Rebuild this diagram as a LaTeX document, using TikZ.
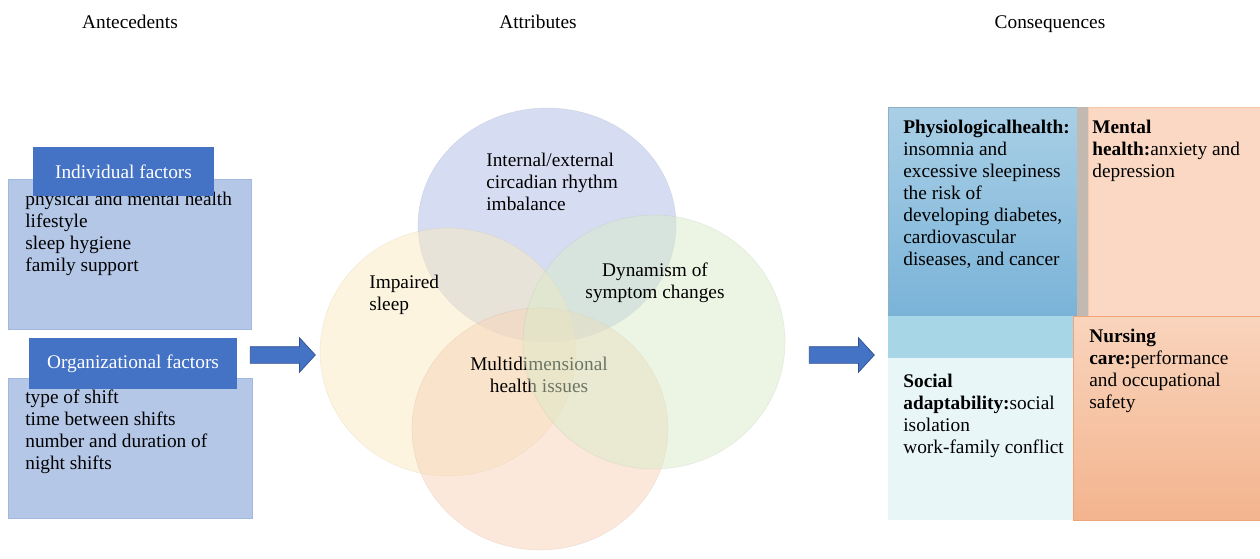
\documentclass[tikz,border=0pt]{standalone}
\usepackage{fontspec}
\setmainfont{Liberation Serif}
\usetikzlibrary{shapes.arrows}
\definecolor{labelblue}{HTML}{4472C4}
\definecolor{arrowedge}{HTML}{2F528F}
\definecolor{boxfill}{HTML}{B4C7E7}
\definecolor{boxedge}{HTML}{A3B8DE}
\definecolor{topcirc}{HTML}{AEBCE6}
\definecolor{leftcirc}{HTML}{FBEAC0}
\definecolor{rightcirc}{HTML}{D9EBC8}
\definecolor{bottomcirc}{HTML}{F8D2B8}
\definecolor{physTop}{HTML}{A9CFE6}
\definecolor{physBot}{HTML}{7AB3D8}
\definecolor{gapgray}{HTML}{C2B9B0}
\definecolor{mentalfill}{HTML}{FAD8C3}
\definecolor{socialband}{HTML}{A7D6E6}
\definecolor{socialfill}{HTML}{E8F6F8}
\definecolor{nursTop}{HTML}{F9D4BC}
\definecolor{nursBot}{HTML}{F3B48E}
\definecolor{nursedge}{HTML}{F0A577}

\begin{document}
\begin{tikzpicture}[x=0.02cm, y=-0.02cm,
                  every node/.style={font=\fontsize{11}{12.5}\selectfont},
                  factorbox/.style={draw=boxedge, fill=boxfill, anchor=north west, inner sep=0pt},
                  factorlabel/.style={fill=labelblue, text=white, inner sep=0pt},
                  itemtext/.style={anchor=north west, align=left, inner sep=0pt},
                  venntext/.style={anchor=north, align=center, inner sep=0pt},
                  venn/.style={fill opacity=0.5, draw opacity=0.15},
                  quadbox/.style={anchor=north west, inner sep=0pt},
                  blockarrow/.style={single arrow, fill=labelblue, draw=arrowedge,
                              minimum height=1.3cm, minimum width=0.68cm,
                              single arrow head extend=0.18cm, single arrow tip angle=95,
                              inner xsep=0pt, inner ysep=0.16cm}]
            \useasboundingbox (0,0) rectangle (1260,558);

            % column titles
            \node[anchor=base] (antec) at (130,28) {Antecedents};
            \node[anchor=base] (attrib) at (538,28) {Attributes};
            \node[anchor=base] (conseq) at (1050,28) {Consequences};

            % antecedents
            \node[factorbox, minimum width=4.86cm, minimum height=3cm] (indbox) at (8,179) {};
            \node[itemtext] (indtext) at (25,192) {physical and mental health\\lifestyle\\sleep hygiene\\family support};
            \node[factorlabel, minimum width=3.62cm, minimum height=0.98cm] (indlabel) at (123.5,171.5) {Individual factors};

            \node[factorbox, minimum width=4.88cm, minimum height=2.8cm] (orgbox) at (8,378) {};
            \node[itemtext] (orgtext) at (25,390) {type of shift\\time between shifts\\number and duration of\\night shifts};
            \node[factorlabel, minimum width=4.16cm, minimum height=1.02cm] (orglabel) at (133,363.5) {Organizational factors};

            \node[blockarrow] (arrowin) at (279,355) {};

            % attributes
            \draw[venn, fill=topcirc, draw=topcirc!70!black] (547,225) ellipse [x radius=129, y radius=117];
            \draw[venn, fill=leftcirc, draw=leftcirc!70!black] (448,352) ellipse [x radius=128, y radius=124];
            \draw[venn, fill=bottomcirc, draw=bottomcirc!70!black] (540,429) ellipse [x radius=128, y radius=121];
            \node[venntext] (multi) at (539,357) {Multidimensional\\health issues};
            \draw[venn, fill=rightcirc, draw=rightcirc!70!black] (654,342) ellipse [x radius=131, y radius=127];
            \node[itemtext] (rhythm) at (486,153) {Internal/external\\circadian rhythm\\imbalance};
            \node[itemtext] (impaired) at (369,275) {Impaired\\sleep};
            \node[venntext] (dynamism) at (655,263) {Dynamism of\\symptom changes};

            \node[blockarrow] (arrowout) at (838,355) {};

            % consequences
            \node[quadbox, top color=physTop, bottom color=physBot, draw=physTop!85!black, minimum width=3.78cm, minimum height=4.18cm] (physbox) at (888,107) {};
            \node[quadbox, fill=gapgray, minimum width=0.22cm, minimum height=4.18cm] (gapbox) at (1077,107) {};
            \node[quadbox, fill=mentalfill, draw=nursedge!60!white, minimum width=3.44cm, minimum height=4.18cm] (mentbox) at (1088,107) {};
            \node[quadbox, fill=socialband, minimum width=3.7cm, minimum height=0.84cm] (bandbox) at (888,316) {};
            \node[quadbox, fill=socialfill, minimum width=3.7cm, minimum height=3.24cm] (socbox) at (888,358) {};
            \node[quadbox, top color=nursTop, bottom color=nursBot, draw=nursedge, minimum width=3.74cm, minimum height=4.08cm] (nursbox) at (1073,316) {};

            \node[itemtext] (phystext) at (903,120) {\textbf{Physiologicalhealth:}\\insomnia and\\excessive sleepiness\\the risk of\\developing diabetes,\\cardiovascular\\diseases, and cancer};
            \node[itemtext] (menttext) at (1092,120) {\textbf{Mental}\\\textbf{health:}anxiety and\\depression};
            \node[itemtext] (nurstext) at (1089,329) {\textbf{Nursing}\\\textbf{care:}performance\\and occupational\\safety};
            \node[itemtext] (soctext) at (903,374) {\textbf{Social}\\\textbf{adaptability:}social\\isolation\\work-family conflict};
      \end{tikzpicture}
\end{document}
